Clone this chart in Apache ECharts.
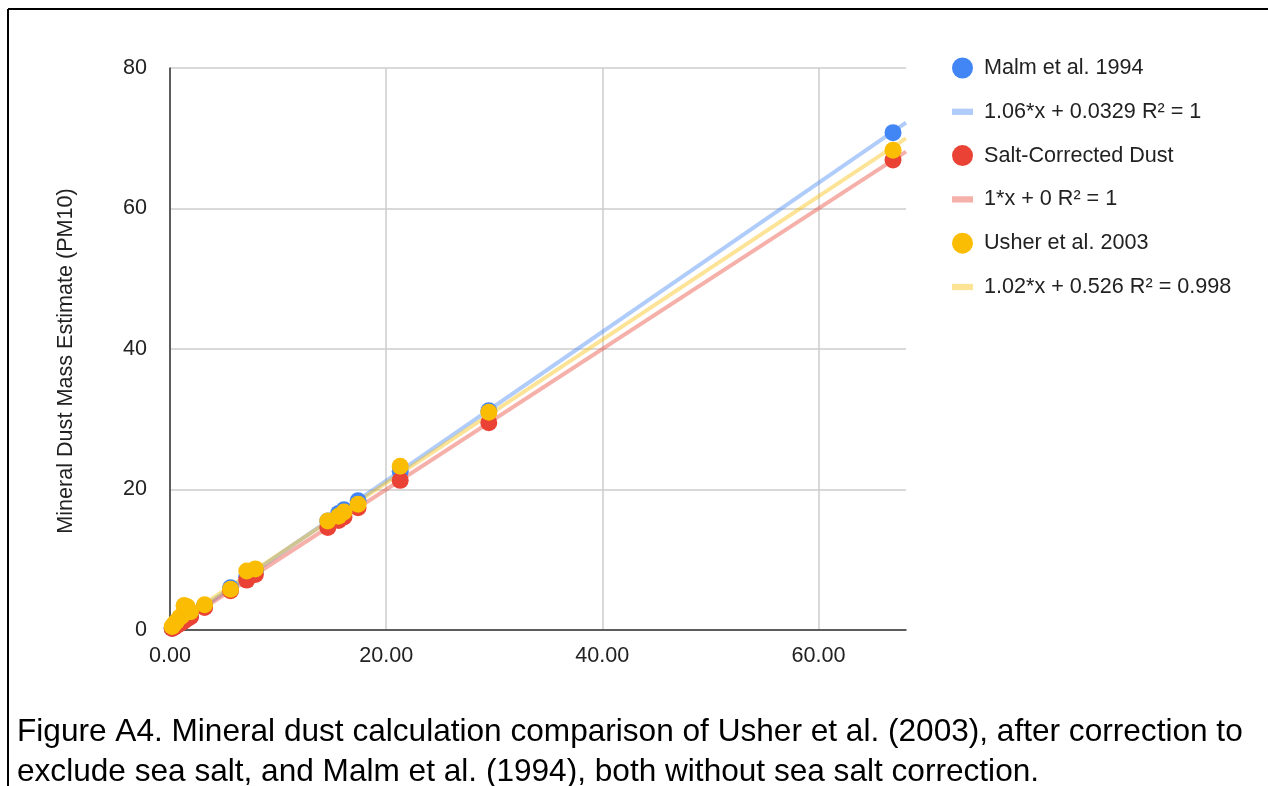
<!DOCTYPE html>
<html>
<head>
<meta charset="utf-8">
<script src="https://cdn.jsdelivr.net/npm/echarts@6/dist/echarts.min.js"></script>
<style>
  html, body { margin: 0; padding: 0; background: #fff; }
  #chart { width: 1268px; height: 786px; }
</style>
</head>
<body>
<div id="chart"></div>
<script>
// Salt-corrected dust (x) and the three dust estimates (y)
const saltCorrected = [0.2, 0.4, 0.6, 0.9, 1.1, 1.3, 1.6, 1.9, 3.2, 5.6, 7.1, 7.9, 14.6, 15.6, 16.1, 17.4, 21.3, 29.5, 66.9];
const malm1994      = [0.24, 0.45, 0.67, 0.99, 1.2, 1.4, 1.7, 2.0, 3.4, 6.0, 7.6, 8.4, 15.5, 16.6, 17.1, 18.4, 22.6, 31.2, 70.8];
const usher2003     = [0.5, 0.9, 1.2, 1.8, 2.0, 3.5, 3.3, 2.6, 3.6, 5.8, 8.4, 8.7, 15.5, 16.2, 16.8, 17.9, 23.3, 31.0, 68.3];

// Linear trendline fits (slope, intercept) for each series
const trendSlopes     = [1.06, 1, 1.02];
const trendIntercepts = [0.0329, 0, 0.526];
const trendLabels = ['1.06*x + 0.0329 R\u00b2 = 1', '1*x + 0 R\u00b2 = 1', '1.02*x + 0.526 R\u00b2 = 0.998'];
const seriesNames = ['Malm et al. 1994', 'Salt-Corrected Dust', 'Usher et al. 2003'];

const xTicks = [0, 20, 40, 60];
const yTicks = [0, 20, 40, 60, 80];
const xMax = 68.1;

const captionLines = [
  'Figure A4. Mineral dust calculation comparison of Usher et al. (2003), after correction to',
  'exclude sea salt, and Malm et al. (1994), both without sea salt correction.'
];

const pointColors = ['#4285F4', '#EA4335', '#FBBC04'];
const trendColors = ['rgba(66,133,244,0.42)', 'rgba(234,67,53,0.42)', 'rgba(251,188,4,0.42)'];
const FONT = '"Liberation Sans", Arial, sans-serif';
const FS = 21.6;

function pairs(xs, ys) { return xs.map((x, i) => [x, ys[i]]); }
function trend(k) {
  return [0, xMax].map(x => [x, trendSlopes[k] * x + trendIntercepts[k]]);
}

const yValues = [malm1994, saltCorrected, usher2003];
const series = [];
for (let k = 0; k < 3; k++) {
  series.push({
    name: seriesNames[k],
    type: 'scatter',
    data: pairs(saltCorrected, yValues[k]),
    symbolSize: 17,
    itemStyle: { color: pointColors[k], opacity: 1 },
    z: 10 + k,
    silent: true
  });
}
for (let k = 0; k < 3; k++) {
  series.push({
    name: trendLabels[k],
    type: 'line',
    data: trend(k),
    showSymbol: false,
    lineStyle: { color: trendColors[k], width: 4 },
    itemStyle: { color: trendColors[k] },
    z: 5,
    silent: true
  });
}

const legendOrder = [];
for (let k = 0; k < 3; k++) {
  legendOrder.push({ name: seriesNames[k], icon: 'circle', itemStyle: { color: pointColors[k] } });
  legendOrder.push({ name: trendLabels[k], icon: 'path://M0,0 L20,0 L20,6 L0,6 Z', itemStyle: { color: trendColors[k] } });
}

const chart = echarts.init(document.getElementById('chart'), null, { renderer: 'canvas' });
chart.setOption({
  animation: false,
  backgroundColor: '#fff',
  textStyle: { fontFamily: FONT },
  grid: { left: 170, right: 362, top: 68, bottom: 156, containLabel: false },
  legend: {
    orient: 'vertical',
    left: 947,
    top: 52,
    itemWidth: 21,
    itemHeight: 21,
    itemGap: 21.8,
    data: legendOrder,
    textStyle: { fontSize: FS, color: '#222', fontFamily: FONT, padding: [0, 0, 0, 6] },
    selectedMode: false
  },
  xAxis: {
    type: 'value',
    min: 0,
    max: xMax,
    interval: 20,
    axisLine: { show: true, onZero: false, lineStyle: { color: '#333', width: 1.5 } },
    axisTick: { show: false },
    axisLabel: {
      fontSize: FS, color: '#222', margin: 15, showMaxLabel: false,
      formatter: v => xTicks.includes(v) ? v.toFixed(2) : ''
    },
    splitLine: { show: true, showMaxLine: false, lineStyle: { color: '#ccc', width: 1.5 } }
  },
  yAxis: {
    type: 'value',
    min: 0,
    max: 80,
    interval: 20,
    name: 'Mineral Dust Mass Estimate (PM10)',
    nameLocation: 'middle',
    nameGap: 93,
    nameTextStyle: { fontSize: FS, color: '#222', fontFamily: FONT, padding: [0, 24, 0, 0] },
    axisLine: { show: true, onZero: false, lineStyle: { color: '#333', width: 1.5 } },
    axisTick: { show: false },
    axisLabel: {
      fontSize: FS, color: '#222', margin: 23,
      formatter: v => yTicks.includes(v) ? String(v) : ''
    },
    splitLine: { show: true, lineStyle: { color: '#ccc', width: 1.5 } }
  },
  series: series,
  graphic: [
    { type: 'line', shape: { x1: 8, y1: 9, x2: 1268, y2: 9 }, style: { stroke: '#000', lineWidth: 2 }, z: 100 },
    { type: 'line', shape: { x1: 8, y1: 9, x2: 8, y2: 786 }, style: { stroke: '#000', lineWidth: 2 }, z: 100 },
    {
      type: 'text', left: 17, top: 712, z: 100,
      style: { text: captionLines.join('\n'), font: '31.6px ' + FONT, lineHeight: 40, fill: '#000' }
    }
  ]
});
</script>
</body>
</html>
